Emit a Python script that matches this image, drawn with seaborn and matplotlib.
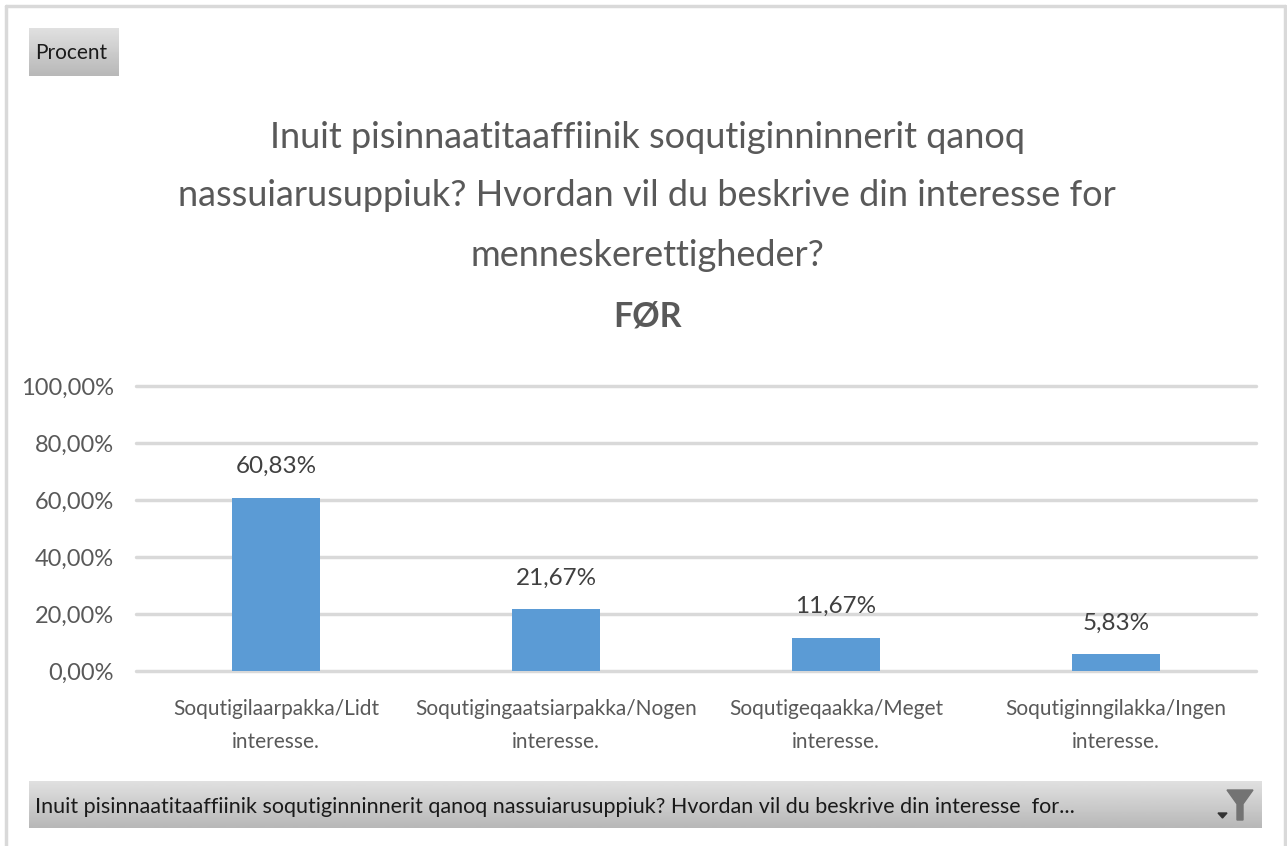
import matplotlib
matplotlib.use("Agg")
import matplotlib.pyplot as plt
from matplotlib.patches import Polygon
from matplotlib.ticker import FuncFormatter
import numpy as np
import pandas as pd
import seaborn as sns

categories = ["Soqutigilaarpakka/Lidt\ninteresse.",
              "Soqutigingaatsiarpakka/Nogen\ninteresse.",
              "Soqutigeqaakka/Meget\ninteresse.",
              "Soqutiginngilakka/Ingen\ninteresse."]
values = [60.83, 21.67, 11.67, 5.83]
yticks = [0, 20, 40, 60, 80, 100]

title_lines = ["Inuit pisinnaatitaaffiinik soqutiginninnerit qanoq",
               "nassuiarusuppiuk? Hvordan vil du beskrive din interesse for",
               "menneskerettigheder?"]
title_bold = "FØR"
field_label = "Procent"
filter_label = "Inuit pisinnaatitaaffiinik soqutiginninnerit qanoq nassuiarusuppiuk? Hvordan vil du beskrive din interesse  for..."

W, H = 1287, 846
GREY = "#595959"

sns.set_theme(style="white")
plt.rcParams["font.family"] = ["Lato", "DejaVu Sans"]


def pct(v, pos=None):
    return f"{v:.2f}".replace(".", ",") + "%"


def gray_box(fig, x0, y0, x1, y1):
    # grey pivot chart button with a vertical gradient
    box = fig.add_axes([x0 / W, 1 - y1 / H, (x1 - x0) / W, (y1 - y0) / H])
    box.imshow(np.linspace(0.88, 0.72, 50).reshape(-1, 1), cmap="gray", vmin=0, vmax=1, aspect="auto")
    box.axis("off")


fig = plt.figure(figsize=(W / 100, H / 100), dpi=100, facecolor="white")

# outer frame, pixel coordinates
bg = fig.add_axes([0, 0, 1, 1])
bg.set_xlim(0, W)
bg.set_ylim(H, 0)
bg.axis("off")
bg.plot([6, 6], [846, 6], color="#d9d9d9", lw=2.5)
bg.plot([6, 1285], [6, 6], color="#d9d9d9", lw=2.5)
bg.plot([1285, 1285], [6, 846], color="#d9d9d9", lw=2.5)

ax = fig.add_axes([136 / W, 1 - 671 / H, (1256 - 136) / W, (671 - 386) / H])
df = pd.DataFrame({"cat": categories, "val": values})
sns.barplot(data=df, x="cat", y="val", color="#5b9bd5", saturation=1, width=0.314, ax=ax, zorder=3, linewidth=0)
ax.set_xlim(-0.5, 3.5)
ax.set_ylim(0, 100)
ax.set_yticks(yticks)
ax.yaxis.set_major_formatter(FuncFormatter(pct))
ax.set_xlabel("")
ax.set_ylabel("")
ax.grid(axis="y", color="#d9d9d9", lw=2.5, zorder=0)
ax.set_axisbelow(True)
for g in ax.get_ygridlines():
    g.set_clip_on(False)
sns.despine(ax=ax, left=True, bottom=True)
ax.tick_params(axis="y", length=0, labelsize=17, labelcolor=GREY, pad=16)
ax.tick_params(axis="x", length=0, labelsize=15, labelcolor=GREY, pad=20)
for lab in ax.get_xticklabels():
    lab.set_linespacing(1.85)
for i, v in enumerate(values):
    ax.annotate(pct(v), (i, v), xytext=(0, 15), textcoords="offset points",
                ha="center", va="bottom", fontsize=17.5, color="#404040")

# title
for line, y in zip(title_lines, [137, 196, 256]):
    bg.text(647, y, line, ha="center", va="center", fontsize=26, color=GREY)
bg.text(647, 317, title_bold, ha="center", va="center", fontsize=24.5, color=GREY, fontweight="bold")

# field buttons
gray_box(fig, 29, 28, 119, 76)
gray_box(fig, 29, 781, 1262, 828)
top = fig.add_axes([0, 0, 1, 1])
top.set_xlim(0, W)
top.set_ylim(H, 0)
top.axis("off")
top.text(35, 53, field_label, ha="left", va="center", fontsize=15, color="#1a1a1a")
top.text(35, 807, filter_label, ha="left", va="center", fontsize=15.5, color="#1a1a1a")
top.add_patch(Polygon([(1227, 790), (1253, 790), (1243, 804), (1243, 820), (1237, 820), (1237, 804)], color="#737373"))
top.add_patch(Polygon([(1218, 813), (1227, 813), (1222.5, 818)], color="#333333"))

fig.savefig("out.png", dpi=100)
